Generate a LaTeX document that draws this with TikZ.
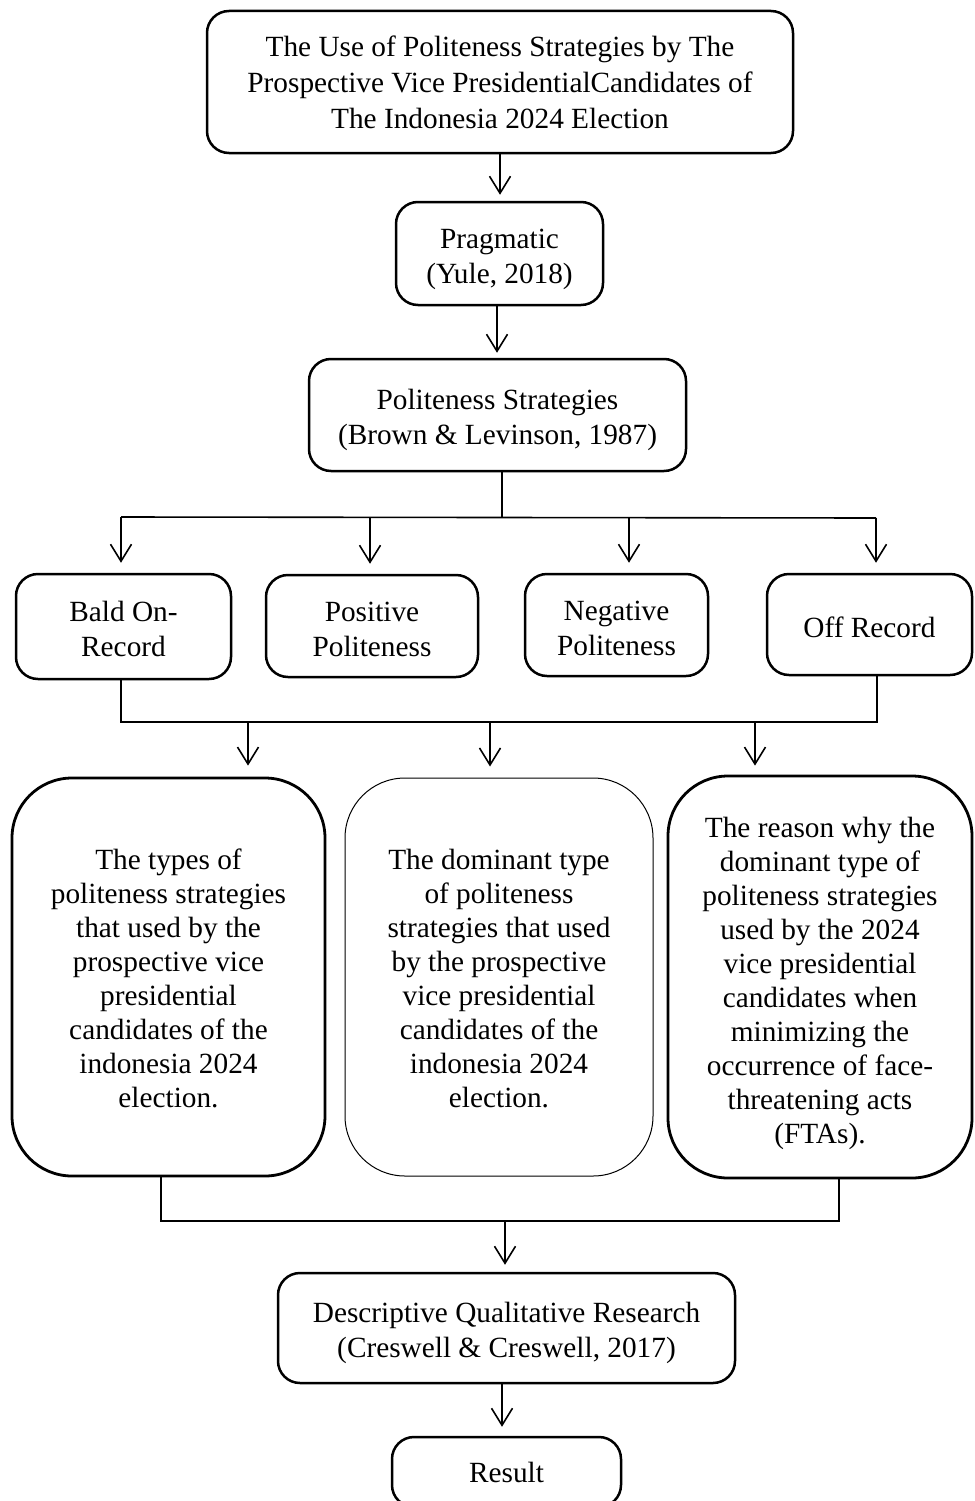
\documentclass[tikz,border=0pt]{standalone}
\usepackage{fontspec}
\setmainfont{Liberation Serif}
\usetikzlibrary{arrows.meta}
\newcommand{\liftby}[1]{\rule{0pt}{#1}}
\begin{document}
\begin{tikzpicture}[x=1pt,y=-1pt,
  box/.style={draw, line width=2.5pt, rounded corners=22pt, align=center, inner sep=0pt,
              font=\fontsize{29.3}{35}\selectfont},
  bigbox/.style={box, line width=2.8pt, rounded corners=60pt, font=\fontsize{29.3}{34}\selectfont},
  thinbox/.style={line width=1pt},
  conn/.style={line width=1.6pt},
  arr/.style={conn, -{Straight Barb[length=17pt,width=21pt,line width=1.6pt]}},
]
\useasboundingbox (0,0) rectangle (974,1501);

\node[box, font=\fontsize{29.3}{36}\selectfont, minimum width=586pt, minimum height=142pt] (top) at (500,82)
  {The Use of Politeness Strategies by The\\Prospective Vice PresidentialCandidates of\\The Indonesia 2024 Election};
\node[box, minimum width=207pt, minimum height=103pt] (prag) at (499.5,253.5)
  {\liftby{31pt}Pragmatic\\(Yule, 2018)};
\node[box, minimum width=377pt, minimum height=112pt] (pol) at (497.5,415)
  {\liftby{31pt}Politeness Strategies\\(Brown \& Levinson, 1987)};

\node[box, minimum width=215pt, minimum height=105pt] (bald) at (123.5,626.5) {\liftby{26pt}Bald On-\\Record};
\node[box, minimum width=212pt, minimum height=102pt] (pos) at (372,626) {\liftby{26pt}Positive\\Politeness};
\node[box, minimum width=183pt, minimum height=102pt] (neg) at (616.5,625) {\liftby{26pt}Negative\\Politeness};
\node[box, minimum width=205pt, minimum height=101pt] (off) at (869.5,624.5) {\liftby{26pt}Off Record};

\node[bigbox, minimum width=313pt, minimum height=398pt] (bigL) at (168.5,977)
  {\liftby{24pt}The types of\\politeness strategies\\that used by the\\prospective vice\\presidential\\candidates of the\\indonesia 2024\\election.};
\node[bigbox, thinbox, minimum width=308pt, minimum height=398pt] (bigM) at (499,977)
  {\liftby{24pt}The dominant type\\of politeness\\strategies that used\\by the prospective\\vice presidential\\candidates of the\\indonesia 2024\\election.};
\node[bigbox, minimum width=304pt, minimum height=402pt] (bigR) at (820,977)
  {\liftby{34pt}The reason why the\\dominant type of\\politeness strategies\\used by the 2024\\vice presidential\\candidates when\\minimizing the\\occurrence of face-\\threatening acts\\(FTAs).};

\node[box, minimum width=457pt, minimum height=110pt] (desc) at (506.5,1328)
  {\liftby{31pt}Descriptive Qualitative Research\\(Creswell \& Creswell, 2017)};
\node[box, minimum width=229pt, minimum height=70pt] (res) at (506.5,1472) {Result};

% top chain
\coordinate (t1) at (500,153);
\draw[arr, shorten >=6pt] (t1) -- (t1 |- prag.north);
\coordinate (t2) at (497,305);
\draw[arr, shorten >=5pt] (t2) -- (t2 |- pol.north);

% branch to four strategies
\coordinate (j) at (502,517);
\coordinate (b1) at (121,517);
\coordinate (b2) at (370,517);
\coordinate (b3) at (629,518);
\coordinate (b4) at (876,518);
\draw[conn] (pol.south -| j) -- (j);
\draw[conn] (b1) -- (b4);
\draw[arr, shorten >=10pt] (b1) -- (b1 |- bald.north);
\draw[arr, shorten >=10pt] (b2) -- (b2 |- pos.north);
\draw[arr, shorten >=10pt] (b3) -- (b3 |- neg.north);
\draw[arr, shorten >=10pt] (b4) -- (b4 |- off.north);

% merge to three aims
\coordinate (u1) at (121,722);
\coordinate (u4) at (877,722);
\draw[conn] (bald.south -| u1) -- (u1) -- (u4) -- (off.south -| u4);
\coordinate (a1) at (248,722);
\coordinate (a2) at (490,722);
\coordinate (a3) at (755,722);
\draw[arr, shorten >=11pt] (a1) -- (a1 |- bigL.north);
\draw[arr, shorten >=11pt] (a2) -- (a2 |- bigM.north);
\draw[arr, shorten >=9pt] (a3) -- (a3 |- bigR.north);

% merge to method
\coordinate (m1) at (161,1221);
\coordinate (m2) at (839,1221);
\draw[conn] (bigL.south -| m1) -- (m1) -- (m2) -- (bigR.south -| m2);
\coordinate (m) at (505,1221);
\draw[arr, shorten >=7pt] (m) -- (m |- desc.north);

\coordinate (r) at (502,1383);
\draw[arr, shorten >=9pt] (r) -- (r |- res.north);
\end{tikzpicture}
\end{document}
